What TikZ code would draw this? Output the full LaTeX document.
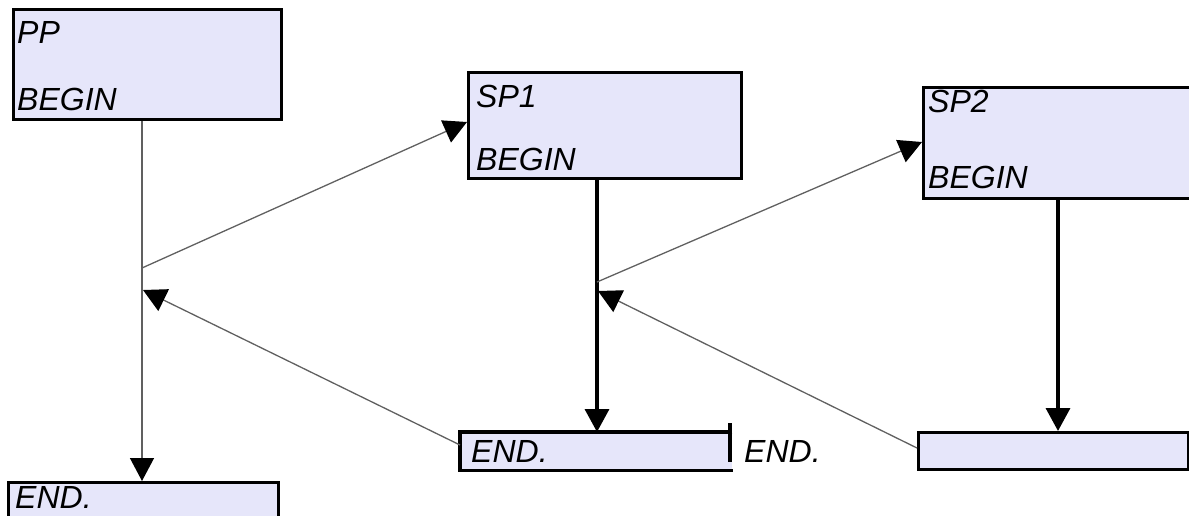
\documentclass[tikz,border=0pt]{standalone}
\usepackage{fontspec}
\setmainfont{Liberation Sans}
\usetikzlibrary{arrows.meta}
\definecolor{lav}{HTML}{E6E6FA}
\definecolor{lgray}{HTML}{606060}
\tikzset{
  box/.style={draw=black, line width=3.2pt, fill=lav, inner sep=0pt, anchor=north west},
  boxfill/.style={draw=none, fill=lav, inner sep=0pt, anchor=north west},
  lbl/.style={font=\itshape\fontsize{32}{32}\selectfont, anchor=base west, inner sep=0pt},
  tip/.style={-{Triangle[length=23pt,width=24pt,color=black]}},
  thin/.style={draw=lgray, line width=1.3pt, tip},
  thick/.style={draw=black, line width=3.5pt, tip},
}
\begin{document}
\begin{tikzpicture}[x=1pt,y=-1pt]
\useasboundingbox (0,0) rectangle (1189,515);
% boxes
\node[box, minimum width=268pt, minimum height=110pt] (pp) at (12,8) {};
\node[box, minimum width=273pt, minimum height=106pt] (sp1) at (467,71) {};
\node[box, minimum width=275pt, minimum height=111pt] (sp2) at (922,86) {};
\node[box, minimum width=270pt, minimum height=50pt] (ppend) at (7,481) {};
\node[boxfill, minimum width=272pt, minimum height=38pt] (sp1end) at (460,432) {};
\node[box, minimum width=270pt, minimum height=37pt] (sp2end) at (917,431) {};
\draw[line width=3.2pt] (sp1end.north east) -- (sp1end.north west) -- (sp1end.south west) -- ([xshift=1pt]sp1end.south east);
\draw[line width=4.5pt] (730,423) -- (730,462);
% texts
\node[lbl] (tpp) at (17,43) {PP};
\node[lbl] (tppb) at (17,110) {BEGIN};
\node[lbl] (tsp1) at (476,107) {SP1};
\node[lbl] (tsp1b) at (476,170) {BEGIN};
\node[lbl] (tsp2) at (928,112) {SP2};
\node[lbl] (tsp2b) at (928,188) {BEGIN};
\node[lbl] (tppe) at (15,508) {END.};
\node[lbl] (tsp1e) at (471,462) {END.};
\node[lbl] (tsp1e2) at (744,462) {END.};
% junction points
\coordinate (j1) at (142,268);
\coordinate (r1) at (143,290);
\coordinate (j2) at (597,282);
\coordinate (r2) at (598,291);
\coordinate (s1) at (467,122);
\coordinate (s2) at (922,142);
\coordinate (e1) at (460,445);
\coordinate (e2) at (917,448);
% vertical lines
\draw[thin] (j1 |- pp.south) -- (j1 |- ppend.north);
\draw[thick] (597,177) -- (597,432);
\draw[thick] (1058,197) -- (1058,431);
% diagonals
\draw[thin] (j1) -- (s1);
\draw[thin] (e1) -- (r1);
\draw[thin] (j2) -- (s2);
\draw[thin] (e2) -- (r2);
\end{tikzpicture}
\end{document}
